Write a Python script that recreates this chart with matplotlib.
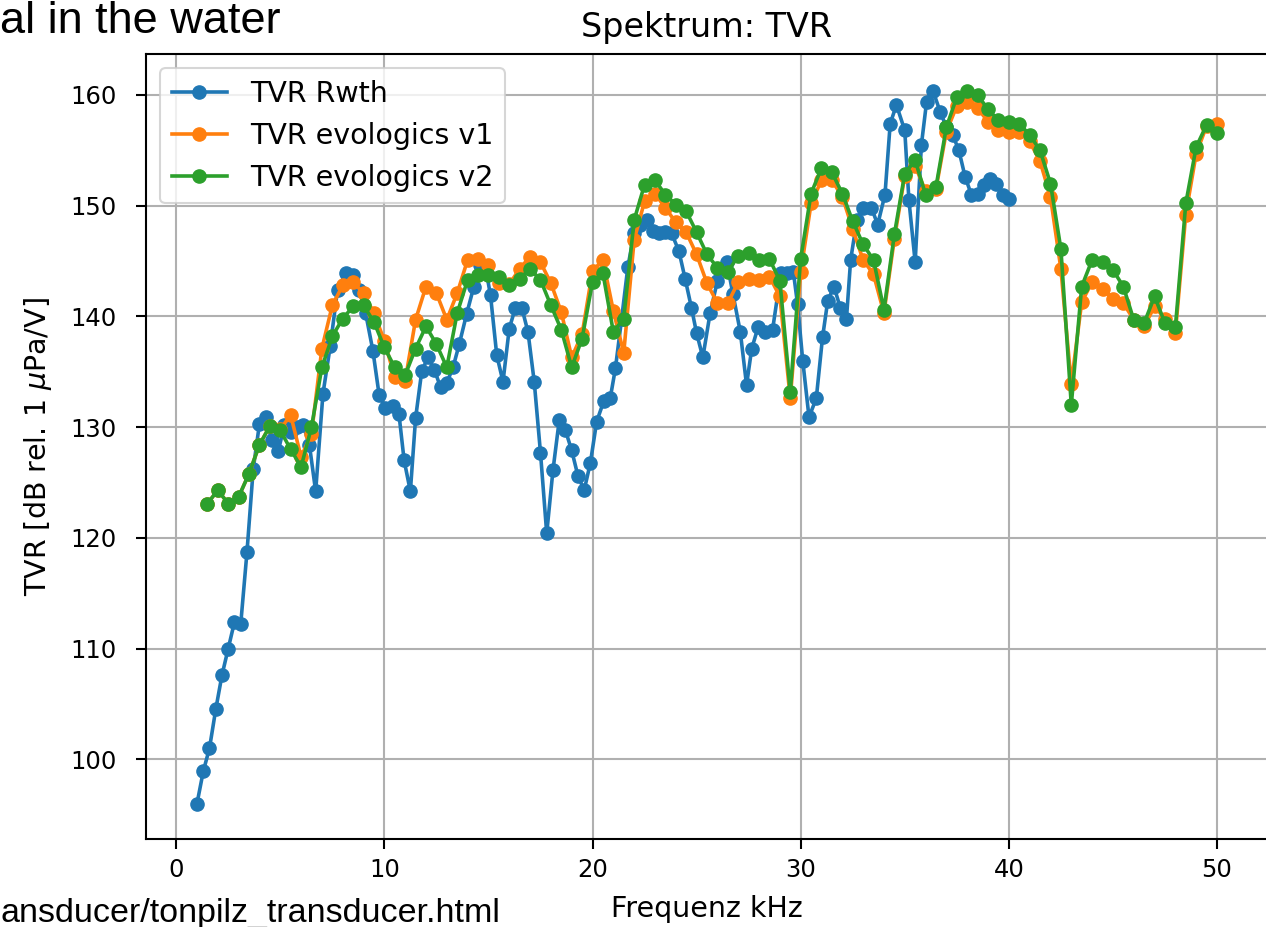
import matplotlib
matplotlib.use("Agg")
import matplotlib.pyplot as plt
import numpy as np

# ---- data ----
rwth_freq = [1.0, 1.3, 1.6, 1.9, 2.2, 2.5, 2.8, 3.1, 3.4, 3.7, 4.0, 4.3, 4.6, 4.9, 5.2, 5.5,
             5.8, 6.1, 6.4, 6.7, 7.05, 7.4, 7.75, 8.15, 8.5, 8.8, 9.1, 9.45, 9.75, 10.05,
             10.4, 10.7, 10.95, 11.25, 11.5, 11.8, 12.1, 12.4, 12.7, 13.0, 13.3, 13.6,
             13.95, 14.3, 14.6, 14.9, 15.1, 15.4, 15.7, 16.0, 16.3, 16.6, 16.9, 17.2, 17.5,
             17.8, 18.1, 18.4, 18.7, 19.0, 19.3, 19.6, 19.9, 20.2, 20.55, 20.85, 21.1, 21.4,
             21.7, 22.0, 22.3, 22.6, 22.9, 23.2, 23.5, 23.8, 24.15, 24.45, 24.75, 25.0, 25.3,
             25.65, 26.0, 26.45, 26.75, 27.1, 27.4, 27.65, 27.95, 28.3, 28.65, 29.05, 29.35,
             29.65, 29.85, 30.1, 30.4, 30.75, 31.05, 31.3, 31.6, 31.9, 32.2, 32.4, 32.7,
             33.0, 33.4, 33.7, 34.05, 34.3, 34.6, 35.0, 35.2, 35.5, 35.8, 36.05, 36.35, 36.7,
             37.0, 37.3, 37.6, 37.9, 38.2, 38.5, 38.8, 39.1, 39.4, 39.7, 40.0]
rwth_tvr = [96.0, 98.9, 101.0, 104.5, 107.6, 110.0, 112.4, 112.2, 118.7, 126.2, 130.3, 130.9,
            128.8, 127.8, 130.2, 129.6, 130.0, 130.2, 128.4, 124.2, 133.0, 137.3, 142.4, 143.9,
            143.7, 142.4, 140.3, 136.9, 132.9, 131.7, 131.9, 131.2, 127.0, 124.2, 130.8, 135.1,
            136.3, 135.2, 133.6, 134.0, 135.4, 137.5, 140.2, 142.7, 144.6, 144.0, 141.9, 136.5,
            134.1, 138.9, 140.8, 140.8, 138.6, 134.1, 127.7, 120.4, 126.1, 130.6, 129.7, 127.9,
            125.6, 124.3, 126.8, 130.5, 132.4, 132.6, 135.3, 139.8, 144.5, 147.5, 148.3, 148.7,
            147.7, 147.5, 147.6, 147.5, 145.9, 143.4, 140.8, 138.5, 136.3, 140.3, 143.2, 144.9,
            142.0, 138.6, 133.8, 137.1, 139.0, 138.6, 138.8, 143.9, 143.9, 144.0, 141.1, 136.0,
            130.9, 132.6, 138.1, 141.4, 142.7, 140.8, 139.8, 145.1, 148.7, 149.8, 149.8, 148.3,
            151.0, 157.4, 159.1, 156.8, 150.5, 144.9, 155.5, 159.4, 160.4, 158.5, 157.1, 156.4,
            155.0, 152.6, 151.0, 151.1, 151.9, 152.4, 152.0, 151.0, 150.6]

evo_freq = [1.5, 2.0, 2.5, 3.0, 3.5, 4.0, 4.5, 5.0, 5.5, 6.0, 6.5, 7.0, 7.5, 8.0, 8.5, 9.0,
            9.5, 10.0, 10.5, 11.0, 11.5, 12.0, 12.5, 13.0, 13.5, 14.0, 14.5, 15.0, 15.5, 16.0,
            16.5, 17.0, 17.5, 18.0, 18.5, 19.0, 19.5, 20.0, 20.5, 21.0, 21.5, 22.0, 22.5, 23.0,
            23.5, 24.0, 24.5, 25.0, 25.5, 26.0, 26.5, 27.0, 27.5, 28.0, 28.5, 29.0, 29.5, 30.0,
            30.5, 31.0, 31.5, 32.0, 32.5, 33.0, 33.5, 34.0, 34.5, 35.0, 35.5, 36.0, 36.5, 37.0,
            37.5, 38.0, 38.5, 39.0, 39.5, 40.0, 40.5, 41.0, 41.5, 42.0, 42.5, 43.0, 43.5, 44.0,
            44.5, 45.0, 45.5, 46.0, 46.5, 47.0, 47.5, 48.0, 48.5, 49.0, 49.5, 50.0]
evo_v1 = [123.1, 124.3, 123.1, 123.7, 125.8, 128.4, 130.1, 129.8, 131.1, 127.3, 129.4, 137.1,
          141.0, 142.8, 143.1, 142.1, 140.3, 137.8, 134.5, 134.2, 139.7, 142.7, 142.1, 139.7,
          142.1, 145.1, 145.2, 144.6, 143.0, 142.9, 144.3, 145.4, 144.9, 143.0, 140.4, 136.3,
          138.4, 144.1, 145.1, 140.5, 136.7, 146.9, 150.4, 151.1, 149.8, 148.5, 147.6, 145.6,
          143.0, 141.2, 141.2, 143.1, 143.4, 143.3, 143.6, 141.8, 132.6, 144.0, 150.2, 152.3,
          152.3, 150.8, 147.9, 145.1, 143.8, 140.3, 147.0, 152.7, 153.6, 151.3, 151.5, 156.7,
          159.0, 159.4, 158.8, 157.6, 156.8, 156.7, 156.7, 155.8, 154.0, 150.8, 144.3, 133.9,
          141.3, 143.1, 142.5, 141.6, 141.2, 139.7, 139.1, 140.9, 139.8, 138.5, 149.2, 154.7,
          157.2, 157.4]
evo_v2 = [123.1, 124.3, 123.1, 123.7, 125.8, 128.4, 130.1, 129.7, 128.0, 126.4, 130.0, 135.4,
          138.2, 139.8, 140.9, 141.0, 139.5, 137.2, 135.4, 134.7, 137.1, 139.1, 137.5, 135.4,
          140.3, 143.3, 143.7, 143.7, 143.6, 142.8, 143.4, 144.3, 143.3, 141.0, 138.8, 135.4,
          138.0, 143.1, 143.9, 138.6, 139.8, 148.7, 151.9, 152.3, 151.0, 150.1, 149.5, 147.6,
          145.6, 144.4, 144.0, 145.5, 145.7, 145.1, 145.2, 143.2, 133.2, 145.2, 151.1, 153.4,
          153.0, 151.1, 148.6, 146.5, 145.1, 140.6, 147.4, 152.9, 154.1, 151.0, 151.7, 157.1,
          159.8, 160.4, 160.0, 158.7, 157.7, 157.6, 157.4, 156.4, 155.0, 152.0, 146.1, 132.0,
          142.7, 145.1, 144.9, 144.2, 142.7, 139.7, 139.4, 141.8, 139.4, 139.0, 150.2, 155.3,
          157.3, 156.6]

labels = ["TVR Rwth", "TVR evologics v1", "TVR evologics v2"]
xticks = [0, 10, 20, 30, 40, 50]
yticks = [100, 110, 120, 130, 140, 150, 160]

# ---- figure ----
W, H = 1266, 927
fig = plt.figure(figsize=(W / 100, H / 100), dpi=100)
ax = fig.add_axes([146 / W, (H - 839) / H, (1268 - 146) / W, (839 - 54) / H])

lw, ms = 2.6, 9.5
ax.plot(rwth_freq, rwth_tvr, "o-", color="#1f77b4", lw=lw, ms=ms, label=labels[0])
ax.plot(evo_freq, evo_v1, "o-", color="#ff7f0e", lw=lw, ms=ms, label=labels[1])
ax.plot(evo_freq, evo_v2, "o-", color="#2ca02c", lw=lw, ms=ms, label=labels[2])

ax.set_xlim(-1.45, 52.45)
ax.set_ylim(92.8, 163.7)
ax.set_xticks(xticks)
ax.set_yticks(yticks)
ax.grid(True, color="#b0b0b0", lw=1.5)
ax.set_axisbelow(True)
ax.tick_params(labelsize=17.5, length=7, width=1.5)
ax.tick_params(axis="x", pad=7)
ax.tick_params(axis="y", pad=14)
for sp in ax.spines.values():
    sp.set_linewidth(1.5)

ax.set_title("Spektrum: TVR", fontsize=24, pad=12)
ax.set_xlabel("Frequenz kHz", fontsize=20.5, labelpad=9)
ax.set_ylabel(r"TVR [dB rel. 1 $\mu$Pa/V]", fontsize=20.5, labelpad=12)

leg = ax.legend(loc="upper left", fontsize=20.5, frameon=True, borderaxespad=0.5,
                handlelength=1.95)
leg.get_frame().set_linewidth(1.5)

# slide fragments visible around the screenshot
fig.text(0, 1 - 33 / H, "al in the water", fontsize=32.5, family="Liberation Sans",
         ha="left", va="baseline")
fig.text(0, 1 - 922 / H, "ansducer/tonpilz_transducer.html", fontsize=24.5,
         family="Liberation Sans", ha="left", va="baseline")

fig.savefig("out.png", dpi=100)
